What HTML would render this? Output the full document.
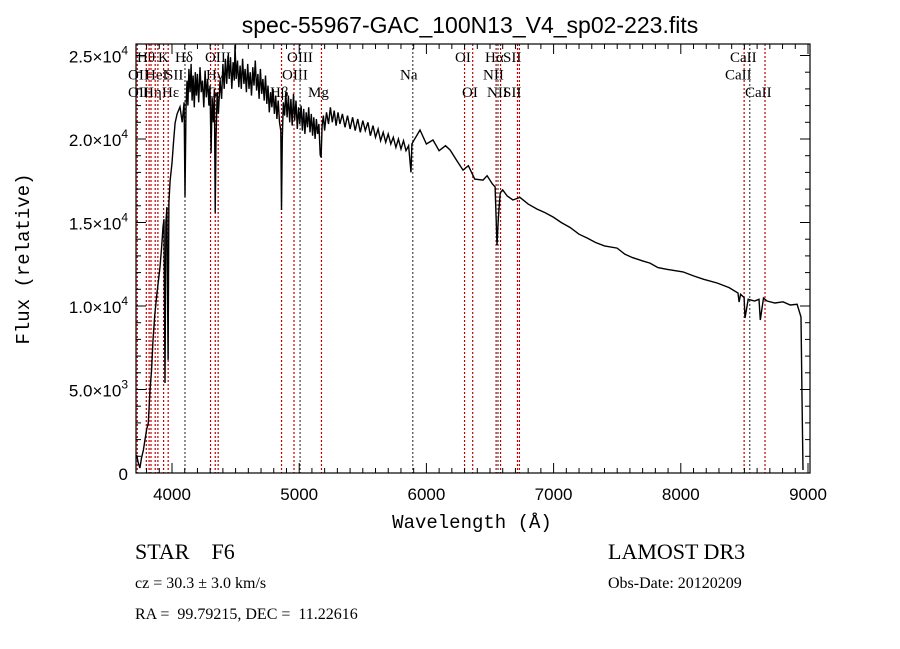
<!DOCTYPE html>
<html><head><meta charset="utf-8"><style>
html,body{margin:0;padding:0;background:#fff;}
svg{display:block;}
</style></head><body>
<svg id="chart" width="900" height="649" viewBox="0 0 900 649" xmlns="http://www.w3.org/2000/svg" font-family="Liberation Sans, sans-serif">
<rect width="900" height="649" fill="#fff"/>
<text x="470" y="33" font-size="23" text-anchor="middle">spec-55967-GAC_100N13_V4_sp02-223.fits</text>
<text transform="translate(29,259) rotate(-90)" font-size="19" text-anchor="middle" font-family="Liberation Mono, monospace">Flux (relative)</text>
<text x="472" y="528" font-size="19" text-anchor="middle" font-family="Liberation Mono, monospace">Wavelength (Å)</text>
<g id="lines"></g>
<g id="spec"></g>
<g id="axes"></g>
<text x="135" y="559" font-size="22" font-family="Liberation Serif, serif" xml:space="preserve">STAR    F6</text>
<text x="135" y="588" font-size="16" font-family="Liberation Serif, serif">cz = 30.3 ± 3.0 km/s</text>
<text x="135" y="619" font-size="16" font-family="Liberation Serif, serif" xml:space="preserve">RA =  99.79215, DEC =  11.22616</text>
<text x="608" y="559" font-size="22" font-family="Liberation Serif, serif">LAMOST DR3</text>
<text x="608" y="588" font-size="16" font-family="Liberation Serif, serif">Obs-Date: 20120209</text>
</svg>
<script>
var wavelengths=[3722,3735,3748,3760,3775,3788,3800,3814,3827,3840,3851,3865,3882,3895,3906,3918,3929,3937,3945,3952,3960,3969,3976,3985,4000,4012,4024,4040,4063,4080,4095,
4102,4110,4118,4125,4133,4142,4150,4158,4166,4175,4183,4192,4200,4210,4220,4230,4240,4250,4260,4270,4280,4290,4299,4307,4315,4325,4333,4340,4346,4355,4365,4377,4390,4400,4410,4420,4430,4440,4450,4460,4470,4480,4490,4495,4505,4515,4525,4535,4545,4555,4565,4575,4585,4595,4605,4615,4625,4635,4645,4655,4665,4675,4685,4695,4705,4715,4725,4735,4745,4755,4765,4775,4785,4795,4805,4815,4825,4835,4845,4855,4861,4867,4875,4885,4895,4905,4915,4925,4935,4945,4955,4965,4975,4985,4995,5005,5015,5025,5035,5045,5055,5065,5075,5085,5095,5105,5115,5125,5135,5145,5155,5165,5172,5180,5190,5200,5215,5230,5245,5260,5275,5290,5305,5320,5340,5360,5380,5400,5420,5440,5460,5480,5500,5520,5540,5560,5580,5600,5620,5640,5660,5680,5700,5720,5740,5760,5780,5800,5820,5840,5860,5879,5886,5900,
5950,6000,6052,6100,6150,6186,6240,6288,6330,6380,6445,6477,6520,6540,6555,6565,6580,6600,6634,6680,6736,6800,6870,6930,6996,7060,7130,7200,7263,7330,7400,7499,7560,7620,7700,7758,7820,7890,8017,8100,8180,8285,8380,8450,8458,8470,8498,8505,8530,8580,8615,8625,8650,8678,8740,8804,8860,8914,8945,8953,8961];
var fluxes=[1080,600,300,900,1380,2000,2600,3000,4970,6200,7960,9500,10780,11600,12340,13500,14730,15200,5390,15000,15930,6770,16200,17500,18560,19800,20960,21500,21920,21000,22200,
16530,21800,23500,22000,24200,22800,24500,22300,23800,21900,24000,22600,23900,22200,24300,22800,23500,21900,24100,22500,23600,22000,23200,19160,22500,21000,23000,15570,20000,22800,21500,23500,22400,24500,23000,24800,23300,25000,23600,24900,23000,24600,23500,25630,23600,24700,23100,24400,23000,24800,23300,24200,22800,24500,23000,24000,22600,24300,23200,24700,22900,23900,22400,24200,22700,23600,22300,23800,22100,23200,21600,22800,21900,23000,21500,22600,21200,22300,21000,20500,15750,20000,22200,21400,22800,21300,22600,21000,22400,20800,22700,21100,22300,20600,21900,20900,22000,20500,21800,20300,21600,20700,21900,20400,21500,20200,21300,20000,21200,20300,20900,19040,18900,20800,21400,20500,21600,20900,21900,21000,21700,20800,21600,20900,21500,20700,21400,20600,21300,20500,21200,20400,21100,20500,21000,20200,20800,20100,20600,19900,20400,19800,20300,19700,20100,19500,20000,19400,19900,19300,19600,18000,19700,19900,
20540,19700,19940,19300,19600,19340,18700,18140,18400,17600,17540,17800,17300,17130,13650,15200,16770,16950,16600,16350,16500,16100,15800,15600,15330,15000,14700,14300,14070,13800,13600,13470,13100,12900,12700,12570,12300,12200,12040,11800,11600,11380,11100,10780,10240,10700,10500,9280,10400,10300,10400,9160,10480,10300,10180,10250,10060,10100,9340,4550,180];
var lineWaves=[3727,3798,3820,3835,3868,3889,3934,3970,4102,4102,4303,4340,4363,4861,4959,5007,5175,5893,6300,6364,6548,6563,6583,6716,6731,8498,8542,8662];
var lineLabels=["OII","Hθ","OII","Hη","HeI","Hε","K","SII","Hδ","Hδ","G","Hγ","OIII","Hβ","OIII","OIII","Mg","Na","OI","OI","NII","Hα","NII","SII","SII","CaII","CaII","CaII"];
var lineRows=[1,0,2,2,1,2,0,1,0,0,2,1,0,2,1,0,2,1,0,2,1,0,2,0,2,1,0,2];
var lineLabelX=[128,137,128,143,145,162,158,165,175,175,207,206,205,270,282,287,308,400,455,462,483,485,487,503,503,725,730,745];
var NS='http://www.w3.org/2000/svg';
var X0=136,X1=810,Y0=44,Y1=473;
function xs(l){return 172+(l-4000)*0.1272;}
function ys(f){return 473-f*417.5/25000;}
function mk(t,a,p){var e=document.createElementNS(NS,t);for(var k in a)e.setAttribute(k,a[k]);p.appendChild(e);return e;}
var gl=document.getElementById('lines');
var dark=[8,15,17,21,26];
var drawn={};
for(var i=0;i<lineWaves.length;i++){
  var x=xs(lineWaves[i]);
  if(!drawn[Math.round(x)]){
    drawn[Math.round(x)]=1;
    var ln=mk('line',{x1:x,x2:x,y1:Y0,y2:Y1,stroke:dark.indexOf(i)>=0?'#444':'#c00000','stroke-width':1.2,'stroke-dasharray':'2,2'},gl);
    
    
  }
  if(i==9)continue;
  var t=mk('text',{x:lineLabelX[i],y:62+lineRows[i]*17.5,'font-size':15,'font-family':'Liberation Serif, serif'},gl);
  t.textContent=lineLabels[i];
  
  
}
var gs=document.getElementById('spec');
var d='';
for(var i=0;i<wavelengths.length;i++){d+=(i?'L':'M')+xs(wavelengths[i]).toFixed(1)+','+ys(fluxes[i]).toFixed(1);}
var p=mk('path',{d:d,fill:'none',stroke:'#000','stroke-width':1.4,'stroke-linejoin':'miter'},gs);


var ga=document.getElementById('axes');
var fr=mk('rect',{x:X0,y:Y0,width:X1-X0,height:Y1-Y0,fill:'none',stroke:'#000','stroke-width':1.2},ga);


var xTicks=[4000,5000,6000,7000,8000,9000];
for(var l=3800;l<=9000;l+=100){
  var x=xs(l);if(x<X0||x>X1)continue;
  var maj=l%1000==0,len=maj?10:5;
  mk('line',{x1:x,x2:x,y1:Y1,y2:Y1-len,stroke:'#000'},ga);
  mk('line',{x1:x,x2:x,y1:Y0,y2:Y0+len,stroke:'#000'},ga);
}
xTicks.forEach(function(v){
  var t=mk('text',{x:xs(v),y:500,'font-size':17,'text-anchor':'middle'},ga);t.textContent=v;
  
  
});
for(var f=0;f<=25000;f+=1000){
  var y=ys(f),len=f%5000==0?10:5;
  mk('line',{x1:X0,x2:X0+len,y1:y,y2:y,stroke:'#000'},ga);
  mk('line',{x1:X1,x2:X1-len,y1:y,y2:y,stroke:'#000'},ga);
}
var yTickMant=["0","5.0","1.0","1.5","2.0","2.5"];
var yTickExp=["","3","4","4","4","4"];
var yTickVals=[0,5000,10000,15000,20000,25000];
for(var i=0;i<yTickVals.length;i++){
  var y=ys(yTickVals[i]);
  var t=mk('text',{x:128,y:y+7,'font-size':17,'text-anchor':'end'},ga);
  
  
  if(yTickExp[i]){
    t.appendChild(document.createTextNode(yTickMant[i]+'×10'));
    var s=mk('tspan',{dy:-8,'font-size':12},t);s.textContent=yTickExp[i];
  } else t.textContent=yTickMant[i];
}
</script>
</body></html>
